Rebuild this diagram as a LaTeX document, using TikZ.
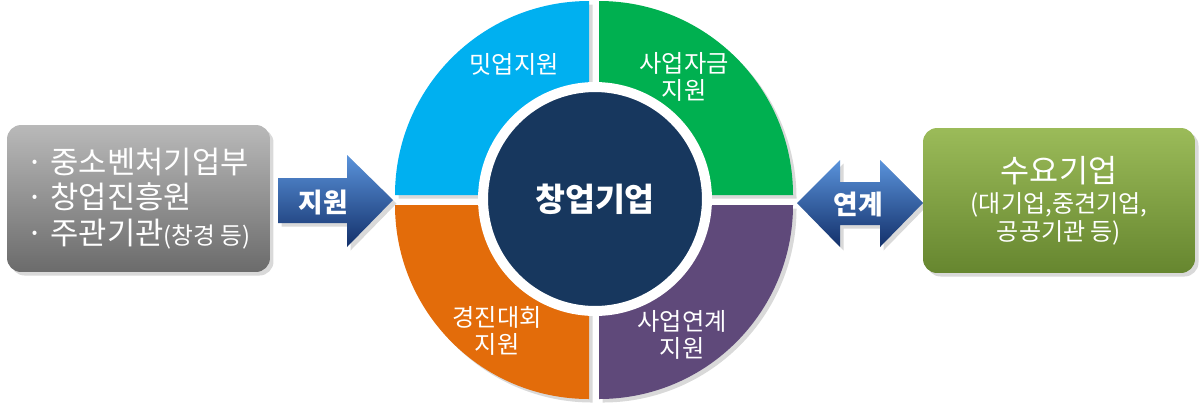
\documentclass[tikz,border=0pt]{standalone}
\usepackage{fontspec}
\setmainfont{Noto Sans CJK KR}
\usetikzlibrary{shadows}
\definecolor{meetblue}{HTML}{00B0F0}
\definecolor{fundgreen}{HTML}{00B050}
\definecolor{contestorange}{HTML}{E36C0A}
\definecolor{linkpurple}{HTML}{5F497A}
\definecolor{corenavy}{HTML}{17375E}
\definecolor{arrowtop}{HTML}{5A93DB}
\definecolor{arrowbot}{HTML}{13306A}
\definecolor{agencytop}{HTML}{B9B9B9}
\definecolor{agencybot}{HTML}{6B6B6B}
\definecolor{demandtop}{HTML}{9BBB59}
\definecolor{demandbot}{HTML}{66862F}
\tikzset{
  softshadow/.style={drop shadow={opacity=0.3,shadow xshift=2pt,shadow yshift=-2pt}},
  quadlabel/.style={text=white,font=\fontsize{13.8}{15.5}\selectfont,align=center},
  arrowlabel/.style={text=white,font=\bfseries\fontsize{15.2}{17}\selectfont},
  blockarrow/.style={top color=arrowtop,bottom color=arrowbot,softshadow},
  sidebox/.style={rounded corners=8pt,text=white,softshadow}
}

\begin{document}
\begin{tikzpicture}[x=0.02cm,y=-0.02cm]
\useasboundingbox (0,0) rectangle (1200,407);
\node[sidebox,minimum width=5.26cm,minimum height=2.94cm,top color=agencytop,bottom color=agencybot,align=left,font=\fontsize{17.5}{20}\selectfont] (agency) at (138.5,198.5) {· 중소벤처기업부\\· 창업진흥원\\· 주관기관{\fontsize{13.5}{20}\selectfont(창경 등)}};
\path[blockarrow] (278,178) -- (347,178) -- (347,155) -- (393,200) -- (347,247) -- (347,223) -- (278,223) -- cycle;
\node[arrowlabel] (support) at (323,202) {지원};
\fill[meetblue,softshadow] (589,195) -- ++(-194,0) arc[start angle=180,end angle=270,radius=194] -- cycle;
\fill[fundgreen,softshadow] (599,195) -- ++(0,-194) arc[start angle=270,end angle=360,radius=194] -- cycle;
\fill[contestorange,softshadow] (589,205) -- ++(-194,0) arc[start angle=180,end angle=90,radius=194] -- cycle;
\fill[linkpurple,softshadow] (599,205) -- ++(194,0) arc[start angle=0,end angle=90,radius=194] -- cycle;
\node[circle,fill=corenavy,draw=white,line width=0.2cm,minimum size=4.48cm,text=white,font=\bfseries\fontsize{18.5}{20}\selectfont] (core) at (595,199) {창업기업};
\node[quadlabel] (meetup) at (514,64) {밋업지원};
\node[quadlabel] (fund) at (684,77) {사업자금\\지원};
\node[quadlabel] (contest) at (497,331) {경진대회\\지원};
\node[quadlabel] (linkage) at (682,335) {사업연계\\지원};
\path[blockarrow] (797,203) -- (840,160) -- (840,182) -- (880,182) -- (880,160) -- (923,203) -- (880,247) -- (880,225) -- (840,225) -- (840,247) -- cycle;
\node[arrowlabel] (linkarrow) at (858,204) {연계};
\node[sidebox,minimum width=5.44cm,minimum height=2.9cm,top color=demandtop,bottom color=demandbot,align=center,font=\fontsize{13.7}{16}\selectfont] (demand) at (1059,200.5) {{\fontsize{18}{20}\selectfont 수요기업}\\[1pt](대기업,중견기업,\\공공기관 등)};
\end{tikzpicture}
\end{document}
